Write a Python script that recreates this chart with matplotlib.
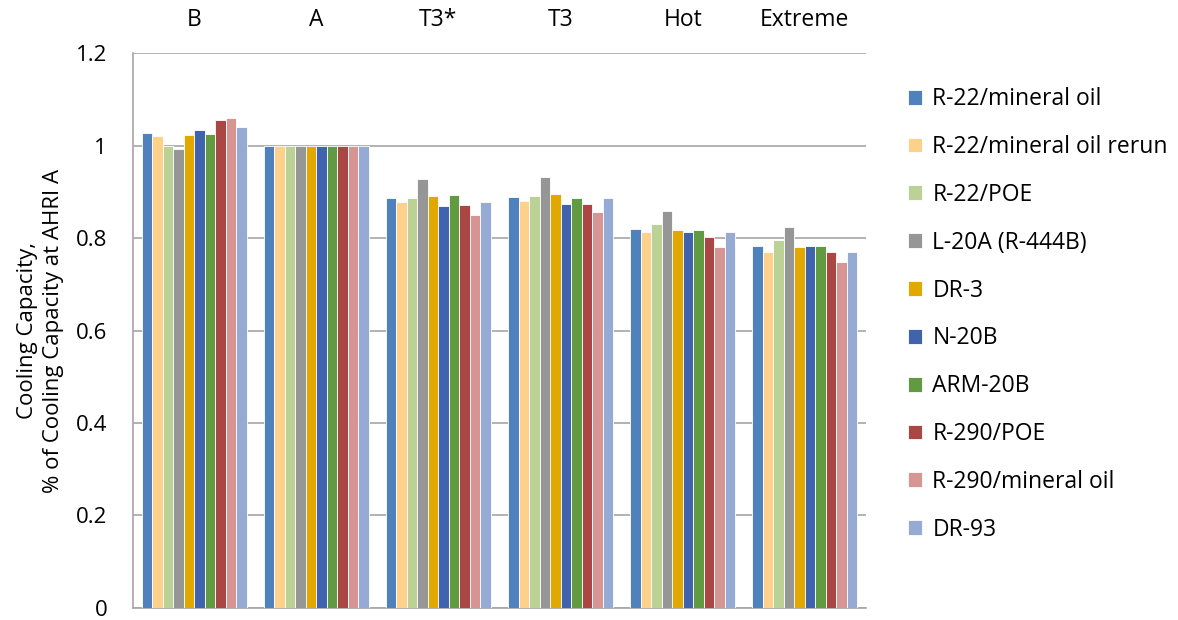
import matplotlib.pyplot as plt
import numpy as np

plt.rcParams["font.family"] = ["Open Sans", "DejaVu Sans"]

categories = ["B", "A", "T3*", "T3", "Hot", "Extreme"]
series_names = [
    "R-22/mineral oil",
    "R-22/mineral oil rerun",
    "R-22/POE",
    "L-20A (R-444B)",
    "DR-3",
    "N-20B",
    "ARM-20B",
    "R-290/POE",
    "R-290/mineral oil",
    "DR-93",
]
# one row per series, columns follow categories
values = [
    [1.027, 1.0, 0.887, 0.888, 0.819, 0.782],
    [1.021, 1.0, 0.879, 0.881, 0.813, 0.770],
    [1.000, 1.0, 0.887, 0.891, 0.830, 0.795],
    [0.993, 1.0, 0.927, 0.932, 0.859, 0.823],
    [1.023, 1.0, 0.891, 0.895, 0.817, 0.780],
    [1.033, 1.0, 0.869, 0.874, 0.812, 0.782],
    [1.025, 1.0, 0.894, 0.886, 0.818, 0.782],
    [1.055, 1.0, 0.871, 0.874, 0.802, 0.770],
    [1.060, 1.0, 0.849, 0.857, 0.780, 0.749],
    [1.040, 1.0, 0.877, 0.887, 0.812, 0.770],
]
colors = ["#4F81BD", "#FDD18A", "#BBD195", "#969696", "#E3A800",
          "#3F64AD", "#619A41", "#AA4643", "#D69493", "#95ABD4"]

fig = plt.figure(figsize=(11.78, 6.2), dpi=100)
ax = fig.add_axes([0.113, 0.0194, 0.622, 0.895])

x = np.arange(len(categories))
w = 0.086
for i, (name, vals) in enumerate(zip(series_names, values)):
    ax.bar(x + (i - 4.5) * w, vals, w, color=colors[i], label=name,
           edgecolor="white", linewidth=0.6, zorder=3)

ax.set_xlim(-0.5, len(categories) - 0.5)
ax.set_ylim(0, 1.2)
ax.set_yticks(np.arange(0, 1.21, 0.2))
ax.set_yticklabels(["0", "0.2", "0.4", "0.6", "0.8", "1", "1.2"])
ax.yaxis.grid(True, color="#A6A6A6", linewidth=1.2, zorder=0)
ax.xaxis.tick_top()
ax.set_xticks(x)
ax.set_xticklabels(categories)
ax.tick_params(axis="x", length=0, pad=15, labelsize=16.5)
ax.tick_params(axis="y", length=0, pad=18.7, labelsize=16)
for s in ["top", "right"]:
    ax.spines[s].set_visible(False)
for s in ["left", "bottom"]:
    ax.spines[s].set_color("#A6A6A6")
    ax.spines[s].set_linewidth(1.2)

ax.set_ylabel("Cooling Capacity,\n% of Cooling Capacity at AHRI A", fontsize=16,
              linespacing=1.3)
ax.yaxis.set_label_coords(-0.094, 0.5)

ax.legend(loc="upper left", bbox_to_anchor=(1.045, 0.955), frameon=False,
          fontsize=16.5, handlelength=0.62, handleheight=0.62, handletextpad=0.45,
          labelspacing=1.04, borderaxespad=0)

fig.savefig("out.png", dpi=100)
